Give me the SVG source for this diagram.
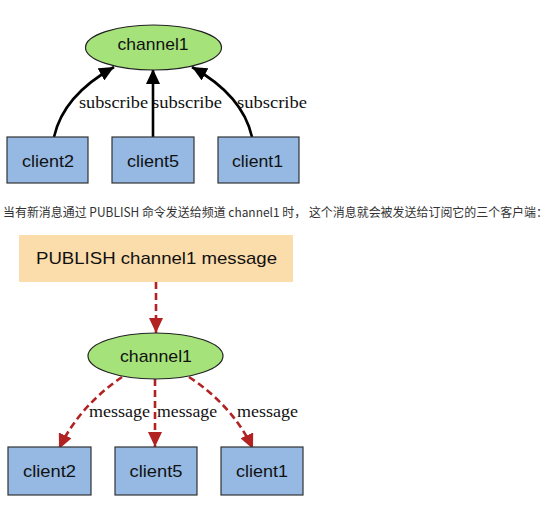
<svg xmlns="http://www.w3.org/2000/svg" width="558" height="511" viewBox="0 0 558 511">
<style>
.box{fill:#95b9e3;stroke:#333;stroke-width:1.2}
.ell{fill:#a6e27a;stroke:#222;stroke-width:1.2}
.nt{font-family:"Liberation Sans",Arial,sans-serif;font-size:17px;fill:#111;text-anchor:middle}
.lb{font-family:"Liberation Serif","Times New Roman",serif;font-size:17px;fill:#111}
.sub{fill:none;stroke:#000;stroke-width:2.6;marker-end:url(#ab)}
.msg{fill:none;stroke:#b22222;stroke-width:2.6;stroke-dasharray:7 4;marker-end:url(#ar)}
.cap{font-family:"Noto Sans CJK SC","Noto Sans",sans-serif;font-size:12.5px;fill:#333}
</style>
<defs>
<marker id="ab" markerUnits="userSpaceOnUse" markerWidth="16" markerHeight="14" viewBox="0 0 16 14" refX="15" refY="7" orient="auto">
<path d="M0,0 L15,7 L0,14 Z" fill="#000"/>
</marker>
<marker id="ar" markerUnits="userSpaceOnUse" markerWidth="16" markerHeight="14" viewBox="0 0 16 14" refX="15" refY="7" orient="auto">
<path d="M0,0 L15,7 L0,14 Z" fill="#b22222"/>
</marker>
</defs>
<rect width="558" height="511" fill="#fff"/>

<g id="connectors">
<path class="sub" d="M54,137 C60,110 80,86 114,67"/>
<path class="sub" d="M153,137 L153,69"/>
<path class="sub" d="M252,137 C246,110 226,86 192,67"/>
<path class="msg" d="M156,282 L156,333"/>
<path class="msg" d="M122,377 C100,392 74,416 59,449"/>
<path class="msg" d="M155,379 L155,447"/>
<path class="msg" d="M189,377 C212,392 238,416 253,449"/>
<text class="lb" x="79" y="108" textLength="69" lengthAdjust="spacingAndGlyphs">subscribe</text>
<text class="lb" x="152" y="108" textLength="70" lengthAdjust="spacingAndGlyphs">subscribe</text>
<text class="lb" x="237" y="108" textLength="70" lengthAdjust="spacingAndGlyphs">subscribe</text>
<text class="lb" x="89" y="417" textLength="61" lengthAdjust="spacingAndGlyphs">message</text>
<text class="lb" x="157" y="417" textLength="60" lengthAdjust="spacingAndGlyphs">message</text>
<text class="lb" x="237" y="417" textLength="61" lengthAdjust="spacingAndGlyphs">message</text>
</g>

<g id="channel1-top">
<ellipse class="ell" cx="153.5" cy="47.5" rx="68" ry="22.5"/>
<text class="nt" x="153" y="50" textLength="71" lengthAdjust="spacingAndGlyphs">channel1</text>
</g>
<g id="client2-top">
<rect class="box" x="7" y="137" width="81" height="46"/>
<text class="nt" x="48" y="167" textLength="52" lengthAdjust="spacingAndGlyphs">client2</text>
</g>
<g id="client5-top">
<rect class="box" x="112" y="137" width="82" height="46"/>
<text class="nt" x="153" y="167" textLength="52" lengthAdjust="spacingAndGlyphs">client5</text>
</g>
<g id="client1-top">
<rect class="box" x="218" y="137" width="81" height="46"/>
<text class="nt" x="257.5" y="167" textLength="51" lengthAdjust="spacingAndGlyphs">client1</text>
</g>

<g id="caption">
<text class="cap" x="3" y="217" textLength="545" lengthAdjust="spacingAndGlyphs">当有新消息通过 PUBLISH 命令发送给频道 channel1 时， 这个消息就会被发送给订阅它的三个客户端：</text>
</g>

<g id="publish">
<rect x="19" y="235" width="274" height="47" fill="#fbdcab"/>
<text class="nt" x="156.5" y="264" textLength="241" lengthAdjust="spacingAndGlyphs">PUBLISH channel1 message</text>
</g>
<g id="channel1-bottom">
<ellipse class="ell" cx="155.5" cy="356" rx="67.5" ry="23"/>
<text class="nt" x="156" y="361.5" textLength="72" lengthAdjust="spacingAndGlyphs">channel1</text>
</g>
<g id="client2-bottom">
<rect class="box" x="8" y="447" width="83" height="48"/>
<text class="nt" x="49.5" y="477" textLength="53" lengthAdjust="spacingAndGlyphs">client2</text>
</g>
<g id="client5-bottom">
<rect class="box" x="115" y="447" width="82" height="48"/>
<text class="nt" x="156" y="477" textLength="53" lengthAdjust="spacingAndGlyphs">client5</text>
</g>
<g id="client1-bottom">
<rect class="box" x="221" y="447" width="82" height="48"/>
<text class="nt" x="262" y="477" textLength="52" lengthAdjust="spacingAndGlyphs">client1</text>
</g>
</svg>
